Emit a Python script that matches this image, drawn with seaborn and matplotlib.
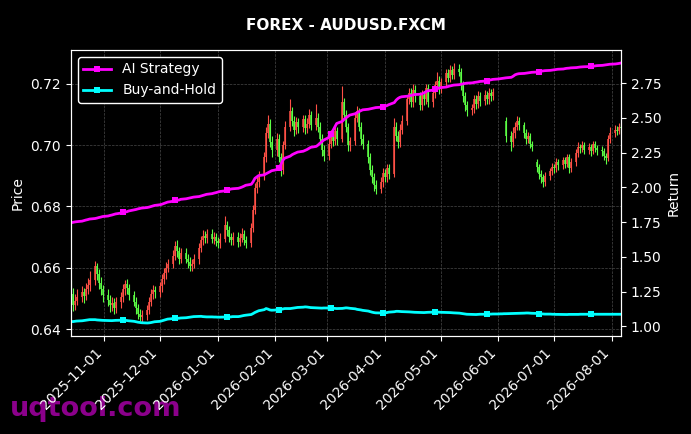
import numpy as np
import pandas as pd
import matplotlib
matplotlib.use("Agg")
import matplotlib.pyplot as plt
import matplotlib.dates as mdates
import seaborn as sns

# ---------------- data ----------------
dates = pd.bdate_range("2025-10-14", "2026-08-06")
nan = np.nan

opens = [
    0.6530, 0.6515, 0.6478, 0.6492,
    0.6505, 0.6520, 0.6508, 0.6532, 0.6545,
    0.6560, 0.6605, 0.6580, 0.6552, 0.6530,
    0.6510, 0.6495, 0.6478, 0.6485, 0.6470,
    0.6488, 0.6505, 0.6530, 0.6548, 0.6535,
    0.6512, 0.6490, 0.6468, 0.6450, 0.6438,
    0.6445, 0.6462, 0.6490, 0.6515, 0.6528,
    0.6520, 0.6540, 0.6565, 0.6582, 0.6600,
    0.6612, 0.6640, 0.6672, 0.6655, 0.6630,
    0.6648, 0.6630, 0.6618, 0.6605, 0.6612,
    0.6628, 0.6665, 0.6690, 0.6705, 0.6698,
    0.6710, 0.6695, 0.6702, 0.6688, 0.6680,
    0.6695, 0.6740, 0.6722, 0.6700, 0.6690,
    0.6702, 0.6685, 0.6698, 0.6710, 0.6692,
    0.6680, 0.6730, 0.6790, 0.6860, 0.6880,
    0.6900, 0.6960, 0.7040, 0.7070, 0.7010,
    0.6985, 0.7020, 0.6960, 0.6920, 0.7000,
    0.7060, 0.7110, 0.7080, 0.7050, 0.7075,
    0.7060, 0.7085, 0.7055, 0.7070, 0.7100,
    0.7065, 0.7090, 0.7060, 0.7020, 0.6985,
    0.6965, 0.7005, 0.7030, 0.7015, 0.7045,
    0.7020, 0.7140, 0.7100, 0.7060, 0.7000,
    0.7015, 0.7090, 0.7110, 0.7060, 0.7020,
    0.7005, 0.6960, 0.6920, 0.6895, 0.6870,
    0.6858, 0.6880, 0.6910, 0.6895, 0.6925,
    0.6905, 0.7060, 0.7030, 0.7010, 0.7050,
    0.7080, 0.7150, 0.7170, 0.7140, 0.7180,
    0.7160, 0.7130, 0.7165, 0.7150, 0.7185,
    0.7140, 0.7170, 0.7195, 0.7210, 0.7185,
    0.7205, 0.7235, 0.7220, 0.7245, 0.7230,
    0.7250, 0.7240, 0.7195, 0.7160, 0.7130,
    0.7115, 0.7120, 0.7150, 0.7135, 0.7160,
    0.7145, 0.7165, 0.7150, 0.7170, 0.7160,
    nan, nan, nan, nan, 0.7080,
    0.7030, 0.7010, 0.7040, 0.7060, 0.7080,
    0.7065, 0.7040, 0.7020, 0.7030, 0.7005,
    0.6945, 0.6930, 0.6905, 0.6895, 0.6880,
    0.6900, 0.6915, 0.6930, 0.6925, 0.6945,
    0.6935, 0.6950, 0.6940, 0.6960, 0.6925,
    0.6945, 0.6975, 0.6995, 0.6990, 0.7000,
    0.6985, 0.6995, 0.6980, 0.7005, 0.6990,
    0.6985, 0.6980, 0.6965, 0.6958, 0.7020,
    0.7040, 0.7050, 0.7045, 0.7060,
]

highs = [
    0.6560, 0.6535, 0.6515, 0.6530,
    0.6540, 0.6535, 0.6552, 0.6568, 0.6590,
    0.6622, 0.6615, 0.6595, 0.6570, 0.6545,
    0.6530, 0.6512, 0.6505, 0.6502, 0.6505,
    0.6520, 0.6548, 0.6560, 0.6562, 0.6548,
    0.6525, 0.6505, 0.6482, 0.6465, 0.6462,
    0.6478, 0.6505, 0.6530, 0.6545, 0.6542,
    0.6555, 0.6580, 0.6600, 0.6618, 0.6630,
    0.6658, 0.6688, 0.6690, 0.6668, 0.6665,
    0.6665, 0.6645, 0.6635, 0.6628, 0.6645,
    0.6680, 0.6705, 0.6722, 0.6720, 0.6728,
    0.6725, 0.6718, 0.6715, 0.6700, 0.6712,
    0.6768, 0.6752, 0.6735, 0.6715, 0.6718,
    0.6718, 0.6712, 0.6730, 0.6722, 0.6705,
    0.6745, 0.6805, 0.6875, 0.6898, 0.6915,
    0.6978, 0.7060, 0.7098, 0.7085, 0.7030,
    0.7040, 0.7035, 0.6975, 0.7015, 0.7080,
    0.7150, 0.7125, 0.7095, 0.7092, 0.7090,
    0.7100, 0.7098, 0.7088, 0.7118, 0.7112,
    0.7135, 0.7105, 0.7075, 0.7035, 0.7002,
    0.7022, 0.7048, 0.7045, 0.7062, 0.7058,
    0.7192, 0.7155, 0.7115, 0.7072, 0.7028,
    0.7105, 0.7128, 0.7122, 0.7075, 0.7035,
    0.7018, 0.6975, 0.6935, 0.6908, 0.6885,
    0.6895, 0.6925, 0.6922, 0.6940, 0.6938,
    0.7088, 0.7075, 0.7045, 0.7068, 0.7098,
    0.7165, 0.7188, 0.7185, 0.7198, 0.7195,
    0.7175, 0.7180, 0.7178, 0.7200, 0.7198,
    0.7185, 0.7210, 0.7238, 0.7225, 0.7220,
    0.7250, 0.7248, 0.7260, 0.7258, 0.7268,
    0.7265, 0.7252, 0.7210, 0.7175, 0.7145,
    0.7135, 0.7165, 0.7165, 0.7178, 0.7175,
    0.7180, 0.7178, 0.7185, 0.7182, 0.7188,
    nan, nan, nan, nan, 0.7092,
    0.7045, 0.7058, 0.7075, 0.7095, 0.7092,
    0.7075, 0.7052, 0.7042, 0.7040, 0.7015,
    0.6955, 0.6940, 0.6918, 0.6905, 0.6912,
    0.6925, 0.6942, 0.6940, 0.6958, 0.6955,
    0.6962, 0.6962, 0.6972, 0.6970, 0.6958,
    0.6988, 0.7010, 0.7005, 0.7015, 0.7010,
    0.7008, 0.7005, 0.7015, 0.7015, 0.7000,
    0.6998, 0.6992, 0.6975, 0.7032, 0.7058,
    0.7065, 0.7062, 0.7072, 0.7070,
]

lows = [
    0.6495, 0.6458, 0.6462, 0.6480,
    0.6488, 0.6485, 0.6495, 0.6515, 0.6525,
    0.6545, 0.6560, 0.6530, 0.6510, 0.6488,
    0.6475, 0.6455, 0.6460, 0.6450, 0.6452,
    0.6470, 0.6488, 0.6512, 0.6515, 0.6495,
    0.6475, 0.6450, 0.6432, 0.6425, 0.6420,
    0.6430, 0.6448, 0.6475, 0.6498, 0.6502,
    0.6505, 0.6522, 0.6548, 0.6565, 0.6585,
    0.6598, 0.6625, 0.6635, 0.6612, 0.6615,
    0.6615, 0.6600, 0.6588, 0.6590, 0.6598,
    0.6612, 0.6650, 0.6675, 0.6680, 0.6682,
    0.6680, 0.6678, 0.6672, 0.6665, 0.6665,
    0.6685, 0.6705, 0.6685, 0.6675, 0.6675,
    0.6668, 0.6670, 0.6685, 0.6675, 0.6665,
    0.6668, 0.6718, 0.6775, 0.6845, 0.6862,
    0.6885, 0.6945, 0.7022, 0.6995, 0.6962,
    0.6965, 0.6945, 0.6898, 0.6905, 0.6988,
    0.7045, 0.7062, 0.7030, 0.7035, 0.7040,
    0.7042, 0.7038, 0.7040, 0.7055, 0.7048,
    0.7050, 0.7042, 0.7005, 0.6965, 0.6948,
    0.6950, 0.6990, 0.6998, 0.7000, 0.7002,
    0.7010, 0.7085, 0.7042, 0.6982, 0.6982,
    0.7000, 0.7075, 0.7045, 0.7002, 0.6988,
    0.6942, 0.6902, 0.6878, 0.6852, 0.6842,
    0.6845, 0.6865, 0.6880, 0.6880, 0.6890,
    0.6895, 0.7015, 0.6992, 0.6995, 0.7035,
    0.7065, 0.7135, 0.7125, 0.7125, 0.7142,
    0.7115, 0.7115, 0.7132, 0.7135, 0.7125,
    0.7125, 0.7155, 0.7180, 0.7168, 0.7170,
    0.7192, 0.7205, 0.7205, 0.7215, 0.7215,
    0.7225, 0.7180, 0.7142, 0.7112, 0.7095,
    0.7098, 0.7105, 0.7118, 0.7120, 0.7128,
    0.7130, 0.7135, 0.7135, 0.7145, 0.7148,
    nan, nan, nan, nan, 0.7010,
    0.6980, 0.6995, 0.7025, 0.7048, 0.7050,
    0.7025, 0.7005, 0.7008, 0.6990, 0.6980,
    0.6912, 0.6890, 0.6878, 0.6865, 0.6868,
    0.6885, 0.6902, 0.6910, 0.6912, 0.6920,
    0.6922, 0.6925, 0.6928, 0.6910, 0.6912,
    0.6932, 0.6962, 0.6975, 0.6978, 0.6970,
    0.6972, 0.6965, 0.6970, 0.6978, 0.6968,
    0.6965, 0.6950, 0.6940, 0.6948, 0.7008,
    0.7028, 0.7032, 0.7035, 0.7040,
]

closes = [
    0.6515, 0.6478, 0.6492, 0.6505,
    0.6520, 0.6508, 0.6532, 0.6545, 0.6560,
    0.6605, 0.6580, 0.6552, 0.6530, 0.6510,
    0.6495, 0.6478, 0.6485, 0.6470, 0.6488,
    0.6505, 0.6530, 0.6548, 0.6535, 0.6512,
    0.6490, 0.6468, 0.6450, 0.6438, 0.6445,
    0.6462, 0.6490, 0.6515, 0.6528, 0.6520,
    0.6540, 0.6565, 0.6582, 0.6600, 0.6612,
    0.6640, 0.6672, 0.6655, 0.6630, 0.6648,
    0.6630, 0.6618, 0.6605, 0.6612, 0.6628,
    0.6665, 0.6690, 0.6705, 0.6698, 0.6710,
    0.6695, 0.6702, 0.6688, 0.6680, 0.6695,
    0.6740, 0.6722, 0.6700, 0.6690, 0.6702,
    0.6685, 0.6698, 0.6710, 0.6692, 0.6680,
    0.6730, 0.6790, 0.6860, 0.6880, 0.6900,
    0.6960, 0.7040, 0.7070, 0.7010, 0.6985,
    0.7020, 0.6960, 0.6920, 0.7000, 0.7060,
    0.7110, 0.7080, 0.7050, 0.7075, 0.7060,
    0.7085, 0.7055, 0.7070, 0.7100, 0.7065,
    0.7090, 0.7060, 0.7020, 0.6985, 0.6965,
    0.7005, 0.7030, 0.7015, 0.7045, 0.7020,
    0.7140, 0.7100, 0.7060, 0.7000, 0.7015,
    0.7090, 0.7110, 0.7060, 0.7020, 0.7005,
    0.6960, 0.6920, 0.6895, 0.6870, 0.6858,
    0.6880, 0.6910, 0.6895, 0.6925, 0.6905,
    0.7060, 0.7030, 0.7010, 0.7050, 0.7080,
    0.7150, 0.7170, 0.7140, 0.7180, 0.7160,
    0.7130, 0.7165, 0.7150, 0.7185, 0.7140,
    0.7170, 0.7195, 0.7210, 0.7185, 0.7205,
    0.7235, 0.7220, 0.7245, 0.7230, 0.7250,
    0.7240, 0.7195, 0.7160, 0.7130, 0.7115,
    0.7120, 0.7150, 0.7135, 0.7160, 0.7145,
    0.7165, 0.7150, 0.7170, 0.7160, 0.7175,
    nan, nan, nan, nan, 0.7030,
    0.7010, 0.7040, 0.7060, 0.7080, 0.7065,
    0.7040, 0.7020, 0.7030, 0.7005, 0.6995,
    0.6930, 0.6905, 0.6895, 0.6880, 0.6900,
    0.6915, 0.6930, 0.6925, 0.6945, 0.6935,
    0.6950, 0.6940, 0.6960, 0.6925, 0.6945,
    0.6975, 0.6995, 0.6990, 0.7000, 0.6985,
    0.6995, 0.6980, 0.7005, 0.6990, 0.6985,
    0.6980, 0.6965, 0.6958, 0.7020, 0.7040,
    0.7050, 0.7045, 0.7060, 0.7055,
]

ai_strategy = [
    1.745, 1.748, 1.751, 1.753,
    1.757, 1.761, 1.765, 1.768, 1.772,
    1.776, 1.779, 1.783, 1.786, 1.790,
    1.794, 1.798, 1.801, 1.805, 1.809,
    1.815, 1.822, 1.826, 1.824, 1.830,
    1.838, 1.841, 1.845, 1.848, 1.851,
    1.855, 1.858, 1.862, 1.866, 1.870,
    1.875, 1.879, 1.884, 1.889, 1.894,
    1.900, 1.906, 1.911, 1.908, 1.914,
    1.918, 1.921, 1.924, 1.927, 1.930,
    1.934, 1.938, 1.942, 1.946, 1.950,
    1.955, 1.959, 1.962, 1.966, 1.970,
    1.975, 1.979, 1.983, 1.988, 1.990,
    1.993, 1.997, 2.002, 2.008, 2.015,
    2.022, 2.040, 2.065, 2.075, 2.085,
    2.090, 2.098, 2.105, 2.112, 2.120,
    2.128, 2.140, 2.165, 2.195, 2.210,
    2.225, 2.235, 2.242, 2.248, 2.254,
    2.260, 2.266, 2.272, 2.280, 2.288,
    2.295, 2.305, 2.318, 2.328, 2.340,
    2.360, 2.385, 2.410, 2.435, 2.460,
    2.475, 2.490, 2.500, 2.510, 2.520,
    2.530, 2.538, 2.545, 2.552, 2.558,
    2.562, 2.565, 2.568, 2.571, 2.574,
    2.577, 2.580, 2.584, 2.588, 2.595,
    2.610, 2.628, 2.640, 2.648, 2.652,
    2.656, 2.659, 2.662, 2.665, 2.668,
    2.670, 2.674, 2.680, 2.688, 2.695,
    2.700, 2.705, 2.710, 2.714, 2.718,
    2.722, 2.726, 2.730, 2.733, 2.736,
    2.739, 2.742, 2.745, 2.748, 2.750,
    2.752, 2.755, 2.757, 2.759, 2.762,
    2.765, 2.768, 2.771, 2.774, 2.777,
    2.780, 2.782, 2.784, 2.786, 2.788,
    2.792, 2.800, 2.810, 2.815, 2.818,
    2.820, 2.822, 2.824, 2.826, 2.828,
    2.830, 2.833, 2.836, 2.838, 2.840,
    2.842, 2.844, 2.846, 2.848, 2.850,
    2.852, 2.855, 2.857, 2.858, 2.860,
    2.862, 2.864, 2.866, 2.867, 2.868,
    2.869, 2.870, 2.872, 2.874, 2.876,
    2.878, 2.880, 2.882, 2.884, 2.886,
    2.888, 2.890, 2.892, 2.895,
]

buy_and_hold = [
    1.036, 1.034, 1.036, 1.038,
    1.040, 1.042, 1.044, 1.046, 1.048,
    1.048, 1.046, 1.045, 1.044, 1.043,
    1.042, 1.041, 1.041, 1.042, 1.043,
    1.044, 1.043, 1.043, 1.042, 1.040,
    1.036, 1.033, 1.030, 1.028, 1.026,
    1.024, 1.025, 1.027, 1.030, 1.033,
    1.036, 1.040, 1.044, 1.048, 1.052,
    1.056, 1.060, 1.059, 1.058, 1.060,
    1.062, 1.064, 1.066, 1.068, 1.070,
    1.072, 1.072, 1.070, 1.069, 1.068,
    1.068, 1.067, 1.067, 1.066, 1.066,
    1.067, 1.067, 1.068, 1.068, 1.070,
    1.070, 1.072, 1.075, 1.078, 1.080,
    1.085, 1.092, 1.100, 1.106, 1.112,
    1.120, 1.128, 1.124, 1.118, 1.116,
    1.118, 1.120, 1.122, 1.125, 1.128,
    1.128, 1.130, 1.132, 1.134, 1.136,
    1.138, 1.140, 1.139, 1.137, 1.135,
    1.133, 1.132, 1.132, 1.131, 1.132,
    1.132, 1.131, 1.130, 1.129, 1.128,
    1.129, 1.131, 1.133, 1.132, 1.130,
    1.126, 1.122, 1.120, 1.118, 1.115,
    1.110, 1.106, 1.102, 1.099, 1.097,
    1.096, 1.096, 1.097, 1.099, 1.102,
    1.105, 1.108, 1.108, 1.107, 1.106,
    1.105, 1.104, 1.103, 1.102, 1.101,
    1.100, 1.099, 1.099, 1.100, 1.101,
    1.102, 1.103, 1.103, 1.102, 1.101,
    1.100, 1.099, 1.099, 1.098, 1.097,
    1.095, 1.093, 1.091, 1.089, 1.087,
    1.086, 1.085, 1.085, 1.086, 1.087,
    1.087, 1.088, 1.088, 1.088, 1.089,
    1.089, 1.090, 1.090, 1.091, 1.091,
    1.092, 1.092, 1.093, 1.093, 1.094,
    1.095, 1.096, 1.096, 1.095, 1.094,
    1.093, 1.091, 1.090, 1.089, 1.088,
    1.088, 1.087, 1.087, 1.086, 1.086,
    1.085, 1.085, 1.085, 1.086, 1.086,
    1.086, 1.086, 1.087, 1.087, 1.087,
    1.087, 1.087, 1.087, 1.087, 1.087,
    1.087, 1.087, 1.087, 1.087, 1.087,
    1.087, 1.087, 1.087, 1.087,
]

title = "FOREX - AUDUSD.FXCM"
series_names = ["AI Strategy", "Buy-and-Hold"]
series_colors = ["#ff00ff", "#00ffff"]
up_color = "#ff5046"
down_color = "#5cff45"

n = len(dates)
for arr in (opens, highs, lows, closes, ai_strategy, buy_and_hold):
    assert len(arr) == n, (len(arr), n)

price = pd.DataFrame({"date": dates, "open": opens, "high": highs,
                      "low": lows, "close": closes}).dropna()
ret = pd.DataFrame({"date": dates, series_names[0]: ai_strategy,
                    series_names[1]: buy_and_hold})
ret_long = ret.melt(id_vars="date", var_name="series", value_name="ret")

# ---------------- style ----------------
plt.rcParams.update({
    "figure.facecolor": "black",
    "axes.facecolor": "black",
    "savefig.facecolor": "black",
    "text.color": "white",
    "axes.labelcolor": "white",
    "axes.edgecolor": "white",
    "xtick.color": "white",
    "ytick.color": "white",
    "font.family": ["DejaVu Sans"],
    "font.size": 10,
})

fig = plt.figure(figsize=(6.91, 4.34), dpi=100)
ax = fig.add_axes([0.1027, 0.2258, 0.7960, 0.6590])

cols = np.where(price["close"] >= price["open"], up_color, down_color)
ax.vlines(price["date"], price["low"], price["high"], colors=cols,
          linewidth=0.8, zorder=2)
ax.vlines(price["date"], price["open"], price["close"], colors=cols,
          linewidth=1.1, zorder=3)
ax.set_ylabel("Price")
ax.grid(True, color="#5a5a5a", linestyle="--", linewidth=0.5, alpha=0.8)
ax.set_axisbelow(True)

ax2 = ax.twinx()
sns.lineplot(data=ret_long, x="date", y="ret", hue="series",
             palette=dict(zip(series_names, series_colors)),
             ax=ax2, linewidth=2, marker="s", markersize=4,
             markeredgewidth=0, markevery=(20, 20))
ax2.set_ylabel("Return")
ax2.set_xlabel("")
ax.set_xlabel("")

ax.set_xlim(dates[0], dates[-1])
ax.xaxis.set_major_locator(mdates.MonthLocator(bymonthday=1))
ax.xaxis.set_major_formatter(mdates.DateFormatter("%Y-%m-%d"))
for lbl in ax.get_xticklabels():
    lbl.set_rotation(45)
    lbl.set_ha("right")
for s in ax2.spines.values():
    s.set_color("white")

leg = ax2.legend(loc="upper left", facecolor="black", edgecolor="white",
                 framealpha=1.0, fontsize=10, title=None)
for t in leg.get_texts():
    t.set_color("white")

fig.suptitle(title, color="white", fontsize=11, fontweight="bold", y=0.958)
fig.text(0.0145, 0.0415, "uqtool.com", color="#8b008b", fontsize=19.5,
         fontweight="bold", va="baseline", ha="left", zorder=-1)

fig.savefig("out.png", dpi=100)
